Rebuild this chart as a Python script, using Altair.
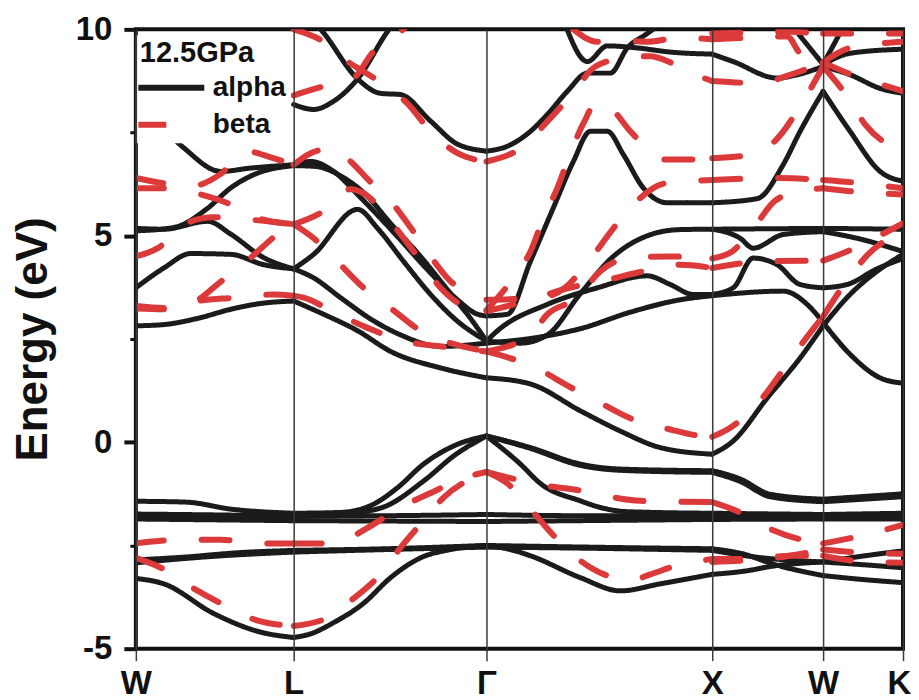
import altair as alt
import pandas as pd

# high-symmetry k positions (path coordinate) and their labels
K_POS = [0, 158, 351, 577, 688, 768]
K_LABELS = ["W", "L", "Γ", "X", "W", "K"]
Y_TICKS = [-5, -2.5, 0, 2.5, 5, 7.5, 10]   # labelled every 5 eV, minor ticks between
SERIES = ["alpha", "beta"]

# ---------------- alpha bands (k, E in eV) ----------------
a01 = [(0,-3.3),(28,-3.43),(78,-4.15),(125,-4.6),(158,-4.73),(175,-4.64),(198,-4.37),(228,-3.9),(255,-3.28),(285,-2.8),(315,-2.6),(351,-2.5),(375,-2.6),(395,-2.75),(445,-3.28),(485,-3.6),(525,-3.43),(577,-3.2),(610,-3.12),(638,-3.0),(688,-2.9),(730,-2.75),(768,-2.63)]
a02 = [(0,-2.85),(50,-2.78),(100,-2.68),(158,-2.62),(250,-2.58),(351,-2.5),(400,-2.52),(480,-2.55),(577,-2.58),(610,-2.72),(638,-2.95),(688,-3.23),(730,-3.33),(768,-3.4)]
a03 = [(0,-2.92),(80,-2.76),(158,-2.66),(250,-2.6),(351,-2.54),(460,-2.57),(577,-2.62),(620,-2.78),(688,-2.9),(730,-2.97),(768,-3.04)]
a04 = [(0,-1.74),(80,-1.76),(158,-1.79),(250,-1.78),(351,-1.75),(450,-1.78),(577,-1.78),(688,-1.8),(768,-1.78)]
a05 = [(0,-1.86),(158,-1.9),(351,-1.92),(577,-1.87),(688,-1.86),(768,-1.86)]
a06 = [(0,-1.43),(50,-1.45),(95,-1.62),(158,-1.72),(205,-1.7),(238,-1.5),(262,-1.1),(288,-0.53),(322,-0.05),(351,0.15),(395,-0.13),(445,-0.53),(485,-0.65),(577,-0.69),(605,-0.89),(635,-1.26),(688,-1.38),(768,-1.25)]
a07 = [(0,-1.8),(158,-1.8),(215,-1.72),(250,-1.55),(288,-0.94),(320,-0.3),(351,0.15),(385,-0.53),(405,-1.0),(445,-1.42),(465,-1.58),(490,-1.68),(577,-1.72),(688,-1.75),(768,-1.72)]
a08 = [(351,0.15),(395,-0.15),(445,-0.56),(485,-0.68),(577,-0.73),(605,-0.95),(635,-1.32),(688,-1.44),(768,-1.32)]
a09 = [(0,2.82),(28,2.85),(62,3.0),(95,3.22),(128,3.37),(158,3.42),(188,3.1),(222,2.7),(255,2.2),(305,1.8),(351,1.56),(395,1.41),(445,0.76),(485,0.27),(525,-0.13),(577,-0.29),(598,0.03),(632,1.07),(665,2.04),(688,2.82),(715,3.58),(742,4.14),(768,4.55)]
a10 = [(0,3.74),(28,4.22),(55,4.57),(95,4.55),(128,4.3),(158,4.2),(178,3.98),(205,3.5),(238,2.94),(265,2.6),(305,2.32),(351,2.4),(405,2.55),(445,2.75),(495,3.15),(545,3.45),(577,3.55),(648,3.66),(672,3.34),(688,2.9),(715,2.13),(745,1.56),(768,1.43)]
a11 = [(0,5.18),(28,5.16),(72,5.35),(95,5.04),(128,4.47),(158,4.2),(178,4.55),(222,5.64),(242,5.18),(268,4.38),(295,3.58),(322,2.93),(351,2.45),(385,2.4),(412,2.6),(445,3.6),(478,4.5),(512,5.0),(545,5.15),(577,5.16),(688,5.18),(768,5.16)]
a12 = [(0,5.12),(38,5.2),(72,5.67),(95,6.16),(118,6.48),(158,6.7),(180,6.68),(205,6.45),(230,6.0),(255,5.3),(285,4.5),(315,3.6),(335,3.0),(351,2.45),(362,2.7),(412,3.34),(462,3.74),(512,4.03),(535,3.82),(558,3.58),(577,3.58),(598,3.74),(618,4.46),(642,4.3),(665,3.82),(688,3.74),(712,3.82),(742,4.2),(768,4.45)]
a13 = [(577,5.16),(605,4.94),(618,4.7),(648,5.03),(688,5.1),(720,4.95),(768,4.62)]
a14 = [(40,7.3),(48,7.13),(85,6.56),(115,6.64),(158,6.72),(175,6.8),(198,6.56),(222,6.0),(242,5.5),(265,4.9),(295,4.1),(322,3.45),(342,3.1),(351,3.06),(372,3.1),(395,4.38),(418,5.68),(438,6.8),(455,7.53),(472,7.53),(488,6.97),(508,6.16),(532,5.8),(577,5.8),(622,5.9),(648,6.72),(665,7.53),(688,8.5),(715,7.53),(745,6.56),(768,6.32)]
a15 = [(158,8.18),(178,8.06),(198,8.26),(222,8.8),(252,9.95),(270,10.5)]
a16 = [(158,10.6),(185,10.0),(222,8.8),(245,8.45),(265,8.42),(295,7.78),(322,7.22),(351,7.05),(372,7.17),(395,7.53),(412,7.94),(432,8.5),(452,8.94),(475,8.94),(492,9.55),(512,9.9),(535,10.3)]
a17 = [(430,10.1),(452,9.22),(472,9.6),(502,9.55),(535,9.45),(577,9.4),(598,9.22),(642,8.82),(662,8.9),(688,9.1),(715,8.9),(745,8.57),(768,8.45)]
a18 = [(688,9.15),(715,9.42),(768,9.52)]
a19 = [(658,10.05),(688,9.15),(708,10.05)]
ALPHA = [a01,a02,a03,a04,a05,a06,a07,a08,a09,a10,a11,a12,a13,a14,a15,a16,a17,a18,a19]

# ---------------- beta bands (k, E in eV) ----------------
b01 = [(0,-2.8),(25,-3.04),(55,-3.5),(85,-3.9),(122,-4.32),(158,-4.45),(192,-4.25),(215,-3.84),(245,-3.19),(265,-2.55),(288,-1.9),(308,-1.34),(330,-0.95),(351,-0.72),(372,-1.0),(397,-1.67),(417,-2.23),(445,-2.87),(478,-3.28),(495,-3.35),(515,-3.2),(545,-2.96),(577,-2.83),(615,-2.83),(655,-2.75),(688,-2.75),(722,-2.88),(768,-2.92)]
b02 = [(0,-2.45),(50,-2.36),(85,-2.36),(120,-2.45),(158,-2.45),(190,-2.45),(215,-2.3),(235,-2.03),(265,-1.58),(295,-1.23),(330,-0.85),(351,-0.72),(372,-0.85),(410,-1.05),(440,-1.15),(470,-1.3),(505,-1.42),(577,-1.45),(605,-1.7),(635,-2.1),(665,-2.35),(688,-2.45),(720,-2.3),(768,-2.0)]
b03 = [(577,-2.9),(640,-2.8),(688,-2.6),(730,-2.68),(768,-2.7)]
b04 = [(0,3.24),(28,3.22),(62,3.42),(98,3.5),(138,3.58),(158,3.55),(168,3.5),(202,3.1),(232,2.77),(268,2.45),(302,2.33),(351,2.2),(403,1.77),(433,1.36),(465,0.95),(497,0.56),(533,0.32),(567,0.15),(577,0.13),(595,0.35),(622,0.92),(645,1.65),(665,2.33),(688,3.05),(713,3.95),(733,4.55),(768,5.1)]
b05 = [(0,3.3),(30,3.25),(62,3.45),(82,3.83),(115,4.47),(142,5.04),(158,5.28),(178,4.94),(198,4.47),(228,3.74),(255,3.25),(285,2.7),(318,2.38),(351,2.2),(395,2.6),(412,3.1),(442,3.5),(465,4.14),(495,4.47),(535,4.5),(577,4.45),(597,4.62),(618,5.18),(640,5.85),(665,6.08),(688,6.15),(715,6.08),(768,6.0)]
b06 = [(0,6.15),(28,6.15),(65,6.0),(95,5.76),(120,5.45),(158,5.28),(188,5.6),(215,6.13),(230,6.0),(250,5.5),(265,5.04),(285,4.4),(305,3.74),(325,3.34),(351,3.17),(395,3.45),(428,3.7),(475,3.95),(508,4.14),(545,4.3),(577,4.22),(630,4.38),(688,4.4),(712,4.62),(740,4.95),(768,5.3)]
b07 = [(0,4.5),(22,4.7),(50,5.3),(78,5.45),(110,5.4),(158,5.28)]
b08 = [(0,6.4),(28,6.27),(55,6.2),(85,6.5),(110,7.05),(135,6.9),(158,6.72),(175,7.0),(198,7.12),(215,6.8),(235,6.3),(252,5.92),(275,5.2),(295,4.5),(315,3.9),(335,3.6),(351,3.45),(405,3.5),(430,3.75),(448,4.22),(478,5.18),(492,5.6),(532,6.28),(577,6.35),(645,6.4),(688,6.35),(715,6.3),(768,6.15)]
b09 = [(351,3.2),(378,3.98),(395,4.62),(408,5.43),(422,6.16),(435,7.0),(448,7.72),(462,8.25),(475,8.1),(495,7.53),(515,7.05),(525,6.85),(558,6.85),(577,6.88),(612,6.95),(640,7.3),(668,8.26),(688,9.1),(712,8.38),(730,7.7),(758,7.13),(768,7.0)]
b10 = [(158,10.0),(188,9.7),(212,9.22),(230,8.95),(248,8.66),(272,8.2),(295,7.53),(322,7.0),(351,6.8),(385,7.12),(415,7.85),(435,8.38),(460,9.1),(488,9.3),(515,9.35),(535,9.2),(555,8.95),(577,8.75),(623,8.7),(655,8.9),(688,9.2),(722,8.85),(755,8.6),(768,8.5)]
b11 = [(158,8.4),(188,8.62),(217,8.8),(238,9.47),(262,9.88),(280,10.3)]
b12 = [(438,10.0),(462,9.7),(490,9.72),(512,9.7),(545,9.8),(577,9.76),(615,9.8),(652,9.83),(665,9.42),(688,9.2),(715,9.55),(768,9.7)]
b13 = [(577,9.9),(610,9.92),(640,9.95),(688,9.9),(730,9.9),(768,9.9)]
BETA = [b01,b02,b03,b04,b05,b06,b07,b08,b09,b10,b11,b12,b13]


def to_rows(bands, series):
    """Split every band at the high-symmetry points so kinks stay sharp."""
    hsp = set(K_POS)
    rows = []
    for bi, band in enumerate(bands):
        seg = 0
        for i, (k, e) in enumerate(band):
            rows.append({"k": k, "E": e, "series": series, "seg": f"{series}-{bi}-{seg}"})
            if 0 < i < len(band) - 1 and k in hsp:
                seg += 1
                rows.append({"k": k, "E": e, "series": series, "seg": f"{series}-{bi}-{seg}"})
    return rows


df = pd.DataFrame(to_rows(ALPHA, "alpha") + to_rows(BETA, "beta"))

label_expr = " : ".join(
    f"datum.value == {v} ? '{t}'" for v, t in zip(K_POS, K_LABELS)
) + " : ''"

FONT = "Liberation Sans"
INK = "#111111"
MAJOR = "datum.value % 5 == 0"

x_enc = alt.X(
    "k:Q",
    scale=alt.Scale(domain=[K_POS[0], K_POS[-1]], nice=False, zero=False),
    axis=alt.Axis(
        values=K_POS, labelExpr=label_expr, title=None, grid=True,
        gridColor="#3d3a3a", gridWidth=1.5, tickColor="#3d3a3a", tickWidth=1.5,
        tickSize=12, labelFontSize=33, labelFontWeight="bold", labelColor=INK,
        labelPadding=7, labelFlush=False, labelOverlap=False, domain=False, zindex=1,
        labelOffset={"condition": {"test": f"datum.value == {K_POS[-1]}", "value": -4}, "value": 0},
    ),
)
y_enc = alt.Y(
    "E:Q",
    scale=alt.Scale(domain=[-5, 10], nice=False, zero=False),
    axis=alt.Axis(
        values=Y_TICKS, labelExpr=f"{MAJOR} ? datum.value + '' : ''", title="Energy (eV)",
        titleFontSize=44, titleFontWeight="bold", titleColor=INK, titlePadding=20,
        labelFontSize=33, labelFontWeight="bold", labelColor=INK, labelPadding=12,
        tickSize={"condition": {"test": MAJOR, "value": 12}, "value": 6},
        tickWidth={"condition": {"test": MAJOR, "value": 4}, "value": 3},
        tickColor=INK, grid=False, domain=False,
    ),
)
color_enc = alt.Color(
    "series:N",
    scale=alt.Scale(domain=SERIES, range=["#1b1b1b", "#dc3a3a"]),
    legend=alt.Legend(
        title="12.5GPa", orient="none", legendX=0, legendY=6, fillColor="white",
        padding=4, titleFontSize=29, titleFontWeight="bold", titleColor=INK,
        labelFontSize=28, labelFontWeight="bold", labelColor=INK,
        symbolType="M-2,0L2,0", symbolSize=1089, symbolStrokeWidth=6,
        symbolOffset=12, labelOffset=22, rowPadding=3, titlePadding=0,
    ),
)
dash_enc = alt.StrokeDash(
    "series:N",
    scale=alt.Scale(domain=SERIES, range=[[1, 0], [28, 38]]),
    legend=None,
)

black = alt.Chart(df).transform_filter(alt.datum.series == "alpha").mark_line(
    strokeWidth=5, interpolate="monotone", strokeCap="round", strokeJoin="round", clip=True
).encode(x=x_enc, y=y_enc, color=color_enc, strokeDash=dash_enc, detail="seg:N")

red = alt.Chart(df).transform_filter(alt.datum.series == "beta").mark_line(
    strokeWidth=6, interpolate="monotone", strokeCap="round", strokeJoin="round", clip=True
).encode(x=x_enc, y=y_enc, color=color_enc, strokeDash=dash_enc, detail="seg:N")

chart = alt.layer(black, red).properties(
    width=768, height=620,
    padding={"left": 3, "top": 5, "right": 0, "bottom": 0},
).configure(font=FONT).configure_view(stroke=INK, strokeWidth=4)

chart.save("out.html", embed_options={"renderer": "svg", "actions": False})
